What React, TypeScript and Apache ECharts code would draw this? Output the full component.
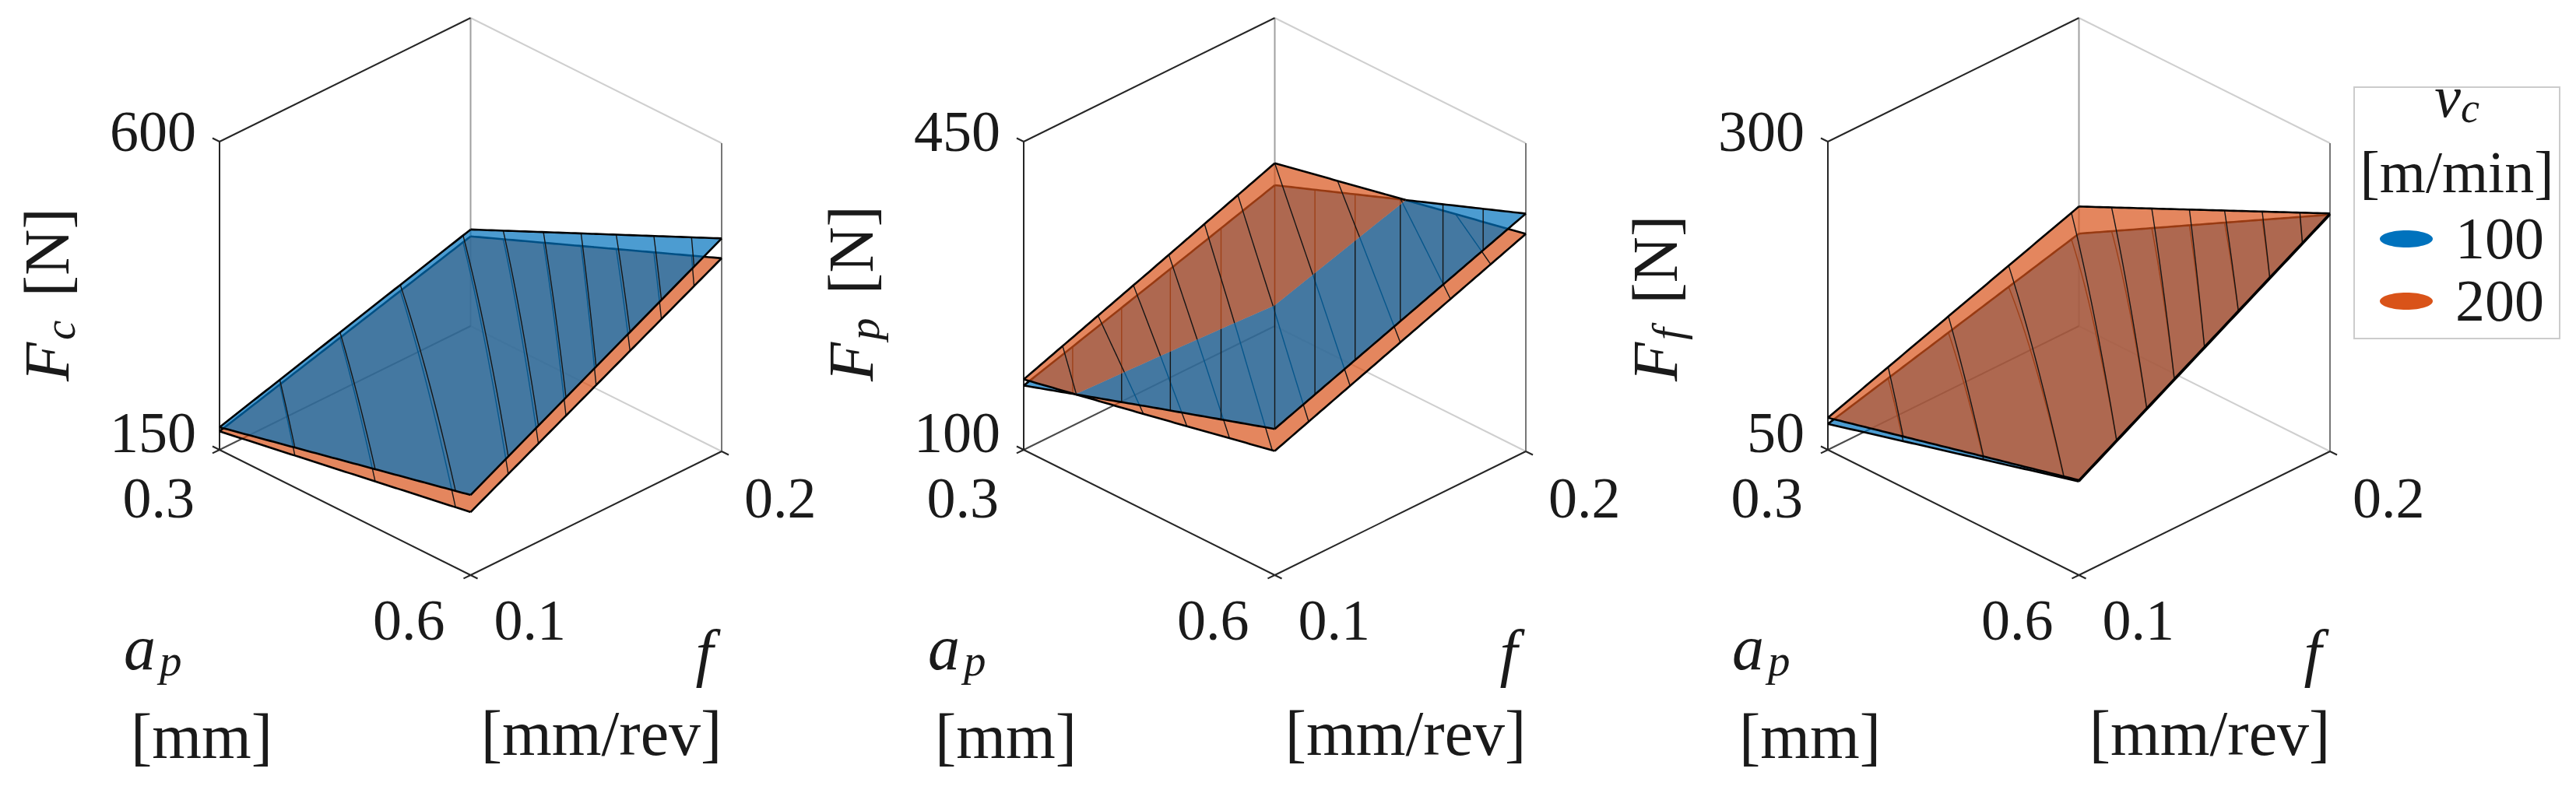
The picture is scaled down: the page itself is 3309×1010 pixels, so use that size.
import React, { useEffect, useRef } from 'react';
import * as echarts from 'echarts';

const SERIF = 'Liberation Serif';
const INK = '#1a1a1a';

// ---------- axis ranges and tick labels ----------
const apTicks = [0.3, 0.6];
const fTicks = [0.1, 0.2];
const FcTicks = [150, 600];
const FpTicks = [100, 450];
const FfTicks = [50, 300];

// ---------- data grids (ap-major, f-minor) ----------
const apNodes2 = [0.3, 0.6];
const fNodes2 = [0.1, 0.2];
const apNodes3 = [0.3, 0.45, 0.6];
const fNodes3 = [0.1, 0.15, 0.2];

// Cutting force F_c [N]
const Fc_vc100 = [183, 291, 267, 461];
const Fc_vc200 = [177, 281, 242, 432];
// Passive force F_p [N]
const Fp_vc100 = [173, 216, 260, 220, 265, 315, 266, 318, 370];
const Fp_vc200 = [180, 232, 285, 210, 265, 316, 241, 294, 347];
// Feed force F_f [N]
const Ff_vc100 = [71, 125, 126, 242];
const Ff_vc200 = [76, 147, 127, 243];

const vcLevels = ['100', '200'];
const vcColors = ['#0072BD', '#D95319'];
const vcFills = ['rgba(0,114,189,0.7)', 'rgba(217,83,25,0.7)'];

// mesh lines: position on back boundary / front boundary (0..2 along the edge path)
const meshTiltBack = [0.24, 0.48, 0.72, 0.97, 1.13, 1.29, 1.44, 1.58, 1.73, 1.88];
const meshTiltFront = [0.3, 0.62, 0.94, 1.15, 1.27, 1.38, 1.5, 1.635, 1.76, 1.89];
const meshVert = [0.195, 0.39, 0.584, 0.786, 1.0, 1.16, 1.32, 1.5, 1.67, 1.83];
const meshP2Back = [0.155, 0.296, 0.437, 0.578, 0.72, 0.853, 1.0, 1.25, 1.5, 1.72];
const meshP2Front = [0.21, 0.477, 0.65, 0.82, 0.99, 1.135, 1.3, 1.5, 1.7, 1.86];

const panels = [
  { zTicks: FcTicks, sub: 'c', ap: apNodes2, f: fNodes2, v100: Fc_vc100, v200: Fc_vc200,
    mesh100: [meshTiltBack, meshTiltFront], mesh200: [meshTiltBack, meshTiltFront] },
  { zTicks: FpTicks, sub: 'p', ap: apNodes3, f: fNodes3, v100: Fp_vc100, v200: Fp_vc200,
    mesh100: [meshVert, meshVert], mesh200: [meshP2Back, meshP2Front] },
  { zTicks: FfTicks, sub: 'f', ap: apNodes2, f: fNodes2, v100: Ff_vc100, v200: Ff_vc200,
    mesh100: [meshTiltBack, meshTiltFront], mesh200: [meshTiltBack, meshTiltFront] },
];

// view projection (oblique, az ~ -45deg)
const KA = 161 / 396;
const KB = 159 / 396;

type P2 = [number, number];

function makeSurf(apN: number[], fN: number[], vals: number[]) {
  return (a: number, b: number) => {
    const ap = apTicks[0] + a * (apTicks[1] - apTicks[0]);
    const f = fTicks[0] + b * (fTicks[1] - fTicks[0]);
    const na = apN.length, nf = fN.length;
    let i = 0; while (i < na - 2 && ap > apN[i + 1]) i++;
    let j = 0; while (j < nf - 2 && f > fN[j + 1]) j++;
    const ta = (ap - apN[i]) / (apN[i + 1] - apN[i]);
    const tb = (f - fN[j]) / (fN[j + 1] - fN[j]);
    const v = (ii: number, jj: number) => vals[ii * nf + jj];
    return v(i, j) * (1 - ta) * (1 - tb) + v(i, j + 1) * (1 - ta) * tb +
      v(i + 1, j) * ta * (1 - tb) + v(i + 1, j + 1) * ta * tb;
  };
}

function rootB(D: (a: number, b: number) => number, a: number) {
  const d0 = D(a, 0), d1 = D(a, 1);
  if (d0 > 0 && d1 > 0) return 0;
  if (d0 <= 0 && d1 <= 0) return 1;
  let lo = 0, hi = 1;
  for (let it = 0; it < 40; it++) {
    const m = (lo + hi) / 2;
    if ((D(a, m) > 0) === (d1 > 0)) hi = m; else lo = m;
  }
  return (lo + hi) / 2;
}

function regionPoly(D: (a: number, b: number) => number, isP: boolean): P2[] | null {
  const M = 90, E = 20;
  const b0: number[] = [];
  for (let k = 0; k <= M; k++) b0.push(rootB(D, k / M));
  if (isP && b0.every((v) => v >= 1)) return null;
  if (!isP && b0.every((v) => v <= 0)) return null;
  const pts: P2[] = [];
  for (let k = 0; k <= M; k++) pts.push([k / M, b0[k]]);
  if (isP) {
    for (let i = 1; i <= E; i++) pts.push([1, b0[M] + (1 - b0[M]) * i / E]);
    for (let k = M - 1; k >= 0; k--) pts.push([k / M, 1]);
    for (let i = 1; i < E; i++) pts.push([0, 1 - (1 - b0[0]) * i / E]);
  } else {
    for (let i = 1; i <= E; i++) pts.push([1, b0[M] * (1 - i / E)]);
    for (let k = M - 1; k >= 0; k--) pts.push([k / M, 0]);
    for (let i = 1; i < E; i++) pts.push([0, b0[0] * i / E]);
  }
  return pts;
}

function clipRuns(pts: P2[], inR: (a: number, b: number) => boolean): P2[][] {
  const runs: P2[][] = [];
  let cur: P2[] | null = null;
  for (let k = 0; k < pts.length; k++) {
    const p = pts[k];
    const ins = inR(p[0], p[1]);
    if (k > 0) {
      const q = pts[k - 1];
      const insQ = inR(q[0], q[1]);
      if (ins !== insQ) {
        let lo = 0, hi = 1;
        for (let it = 0; it < 24; it++) {
          const m = (lo + hi) / 2;
          if (inR(q[0] + (p[0] - q[0]) * m, q[1] + (p[1] - q[1]) * m) === insQ) lo = m; else hi = m;
        }
        const t = (lo + hi) / 2;
        const x: P2 = [q[0] + (p[0] - q[0]) * t, q[1] + (p[1] - q[1]) * t];
        if (cur) { cur.push(x); if (cur.length > 1) runs.push(cur); cur = null; }
        else cur = [x];
      }
    }
    if (ins) { if (!cur) cur = []; cur.push(p); }
  }
  if (cur && cur.length > 1) runs.push(cur);
  return runs;
}

const backPt = (s: number): P2 => (s <= 1 ? [0, s] : [s - 1, 1]);
const frontPt = (s: number): P2 => (s <= 1 ? [s, 0] : [1, s - 1]);

function sampleLine(p: P2, q: P2, n: number): P2[] {
  const out: P2[] = [];
  for (let i = 0; i <= n; i++) out.push([p[0] + (q[0] - p[0]) * i / n, p[1] + (q[1] - p[1]) * i / n]);
  return out;
}

function textBase(x: number, baseline: number, str: string, size: number, italic: boolean, align: string, lhF = 1.0) {
  return textMid(x, baseline - 0.3375 * size, str, size, italic, align, lhF);
}
function textMid(x: number, y: number, str: string, size: number, italic: boolean, align: string, lhF = 0.74) {
  return {
    type: 'text', x, y, silent: true,
    style: {
      text: str, fill: INK, fontSize: size, fontFamily: SERIF,
      fontStyle: italic ? 'italic' : 'normal', lineHeight: Math.round(size * lhF),
      align, textAlign: align, verticalAlign: 'middle', textVerticalAlign: 'middle',
    },
  };
}
// symbol with subscript as one rich text; x/baseline give the main baseline start
function subText(x: number, baseline: number, main: string, sub: string, tail: string,
  size: number, subSize: number, subPad: number[], align: string) {
  const lh = Math.round(size * 1.1);
  const shift = 0.2 * size; // subscript drop
  const h = 2 * (lh - (lh / 2 + 0.3375 * size + shift) + 0.3375 * subSize);
  return {
    type: 'text', x, y: baseline - 0.3375 * size, silent: true,
    style: {
      text: `{m|${main}}{s|${sub}}` + (tail ? `{n|${tail}}` : ''),
      fill: INK, fontSize: size, fontFamily: SERIF,
      align, textAlign: align, verticalAlign: 'middle', textVerticalAlign: 'middle',
      rich: {
        m: { fontSize: size, fontFamily: SERIF, fontStyle: 'italic', lineHeight: lh, fill: INK },
        s: { fontSize: subSize, fontFamily: SERIF, fontStyle: 'italic', lineHeight: h, verticalAlign: 'bottom', padding: subPad, fill: INK },
        n: { fontSize: size, fontFamily: SERIF, fontStyle: 'normal', lineHeight: lh, fill: INK },
      },
    },
  };
}

function panelRenderer(cfg: any) {
  const blue = makeSurf(cfg.ap, cfg.f, cfg.v100);
  const orange = makeSurf(cfg.ap, cfg.f, cfg.v200);
  const D = (a: number, b: number) => orange(a, b) - blue(a, b);
  const inP = (a: number, b: number) => D(a, b) > 0;
  const inN = (a: number, b: number) => D(a, b) <= 0;
  return (params: any, api: any) => {
    if (params.dataIndex !== 0) return null;
    const [z0, z1] = cfg.zTicks;
    const pc = (a: number, b: number, c: number) => api.coord([a + b, c - KA * a + KB * b]);
    const onSurf = (surf: any) => (p: P2) => pc(p[0], p[1], (surf(p[0], p[1]) - z0) / (z1 - z0));
    const ch: any[] = [];
    const seg = (p: number[], q: number[], stroke: string, w: number) => {
      const A = pc(p[0], p[1], p[2]);
      const B = pc(q[0], q[1], q[2]);
      ch.push({ type: 'line', silent: true, shape: { x1: A[0], y1: A[1], x2: B[0], y2: B[1] }, style: { stroke, lineWidth: w } });
    };
    const DARK = '#262626';
    // box (back planes)
    seg([0, 1, 0], [1, 1, 0], '#cfcfcf', 2);
    seg([0, 1, 1], [1, 1, 1], '#cfcfcf', 2);
    seg([0, 1, 0], [0, 1, 1], '#a0a0a0', 2);
    seg([1, 1, 0], [1, 1, 1], '#777777', 2);
    seg([0, 0, 0], [0, 1, 0], '#4a4a4a', 2);
    seg([0, 0, 1], [0, 1, 1], DARK, 2);
    seg([0, 0, 0], [0, 0, 1], DARK, 2);
    seg([0, 0, 0], [1, 0, 0], DARK, 2);
    seg([1, 0, 0], [1, 1, 0], DARK, 2);
    // ticks
    const tk = 0.028;
    seg([0, 0, 0], [-tk, 0, 0], DARK, 2);
    seg([0, 0, 1], [-tk, 0, 1], DARK, 2);
    seg([0, 0, 0], [0, -tk, 0], DARK, 2);
    seg([1, 0, 0], [1, -tk, 0], DARK, 2);
    seg([1, 0, 0], [1 + tk, 0, 0], DARK, 2);
    seg([1, 1, 0], [1 + tk, 1, 0], DARK, 2);

    // surfaces: lower parts first, then upper parts
    const pieces = [
      { surf: orange, mesh: cfg.mesh200, fill: vcFills[1], isP: false, inR: inN },
      { surf: blue, mesh: cfg.mesh100, fill: vcFills[0], isP: true, inR: inP },
      { surf: blue, mesh: cfg.mesh100, fill: vcFills[0], isP: false, inR: inN },
      { surf: orange, mesh: cfg.mesh200, fill: vcFills[1], isP: true, inR: inP },
    ];
    const edges: [P2, P2][] = [[[0, 0], [1, 0]], [[1, 0], [1, 1]], [[1, 1], [0, 1]], [[0, 1], [0, 0]]];
    for (const pc2 of pieces) {
      const poly = regionPoly(D, pc2.isP);
      if (!poly) continue;
      const map = onSurf(pc2.surf);
      ch.push({ type: 'polygon', silent: true, shape: { points: poly.map(map) }, style: { fill: pc2.fill, stroke: null, lineWidth: 0 } });
      const [mb, mf] = pc2.mesh;
      for (let i = 0; i < mb.length; i++) {
        const runs = clipRuns(sampleLine(backPt(mb[i]), frontPt(mf[i]), 40), pc2.inR);
        for (const r of runs) ch.push({ type: 'polyline', silent: true, shape: { points: r.map(map) }, style: { stroke: '#151515', lineWidth: 1.4, fill: null } });
      }
      for (const e of edges) {
        const runs = clipRuns(sampleLine(e[0], e[1], 60), pc2.inR);
        for (const r of runs) ch.push({ type: 'polyline', silent: true, shape: { points: r.map(map) }, style: { stroke: '#000000', lineWidth: 2.6, fill: null, lineJoin: 'round' } });
      }
    }

    // tick labels
    const L = pc(0, 0, 0), T = pc(0, 0, 1), Fr = pc(1, 0, 0), R = pc(1, 1, 0);
    const TS = 74;
    ch.push(textMid(T[0] - 30, T[1] - 13.5, String(z1), TS, false, 'right'));
    ch.push(textMid(L[0] - 30, L[1] - 22, String(z0), TS, false, 'right'));
    ch.push(textMid(L[0] - 32, L[1] + 62, apTicks[0].toFixed(1), TS, false, 'right'));
    ch.push(textMid(Fr[0] - 33, Fr[1] + 58, apTicks[1].toFixed(1), TS, false, 'right'));
    ch.push(textMid(Fr[0] + 30, Fr[1] + 58, fTicks[0].toFixed(1), TS, false, 'left'));
    ch.push(textMid(R[0] + 29, R[1] + 60, fTicks[1].toFixed(1), TS, false, 'left'));

    // axis titles
    const LS = 82, SS = 57;
    ch.push({
      type: 'group', x: L[0] - 194, y: L[1] - 88, rotation: Math.PI / 2,
      children: [subText(0, 0, 'F', cfg.sub, ' [N]', LS, SS, [0, 10, 0, 3], 'left')],
    });
    ch.push(subText(L[0] - 123, L[1] + 282, 'a', 'p', '', LS, SS, [0, 0, 0, 5], 'left'));
    ch.push(textBase(L[0] - 114, L[1] + 396, '[mm]', LS, false, 'left'));
    ch.push(textBase(L[0] + 623, L[1] + 288, 'f', LS, true, 'center'));
    ch.push(textBase(L[0] + 490.5, L[1] + 392, '[mm/rev]', LS, false, 'center'));

    return { type: 'group', children: ch };
  };
}

const legendElements: any[] = [
  { type: 'rect', shape: { x: 3024, y: 112, width: 264, height: 323 }, style: { fill: '#ffffff', stroke: '#cccccc', lineWidth: 2 } },
  subText(3156, 150, 'v', 'c', '', 76, 54, [0, 0, 0, 0], 'center'),
  textBase(3156, 247, '[m/min]', 76, false, 'center'),
  ...vcLevels.flatMap((lv, i) => [
    { type: 'ellipse', shape: { cx: 3091, cy: 307 + 80 * i, rx: 34, ry: 11 }, style: { fill: vcColors[i] } },
    textMid(3268, 306 + 80 * i, lv, 76, false, 'right'),
  ]),
];

const option: any = {
  animation: false,
  backgroundColor: '#ffffff',
  grid: panels.map((_, i) => ({ left: 282 + 1033 * i, top: 23, width: 645, height: 716 })),
  xAxis: panels.map((_, i) => ({ type: 'value', gridIndex: i, min: 0, max: 2, show: false })),
  yAxis: panels.map((_, i) => ({ type: 'value', gridIndex: i, min: -KA, max: 1 + KB, show: false })),
  series: panels.map((p, i) => ({
    type: 'custom', xAxisIndex: i, yAxisIndex: i, silent: true, clip: false,
    data: [[0, 0]], renderItem: panelRenderer(p),
  })),
  graphic: { elements: legendElements },
};

export default function App() {
  const ref = useRef<HTMLDivElement>(null);
  useEffect(() => {
    const chart = echarts.init(ref.current as HTMLDivElement, null, { renderer: 'svg' });
    chart.setOption(option);
    return () => chart.dispose();
  }, []);
  return (
    <div
      ref={ref}
      style={{ position: 'absolute', left: 0, top: 0, width: 3309, height: 1010, background: '#ffffff' }}
    />
  );
}
